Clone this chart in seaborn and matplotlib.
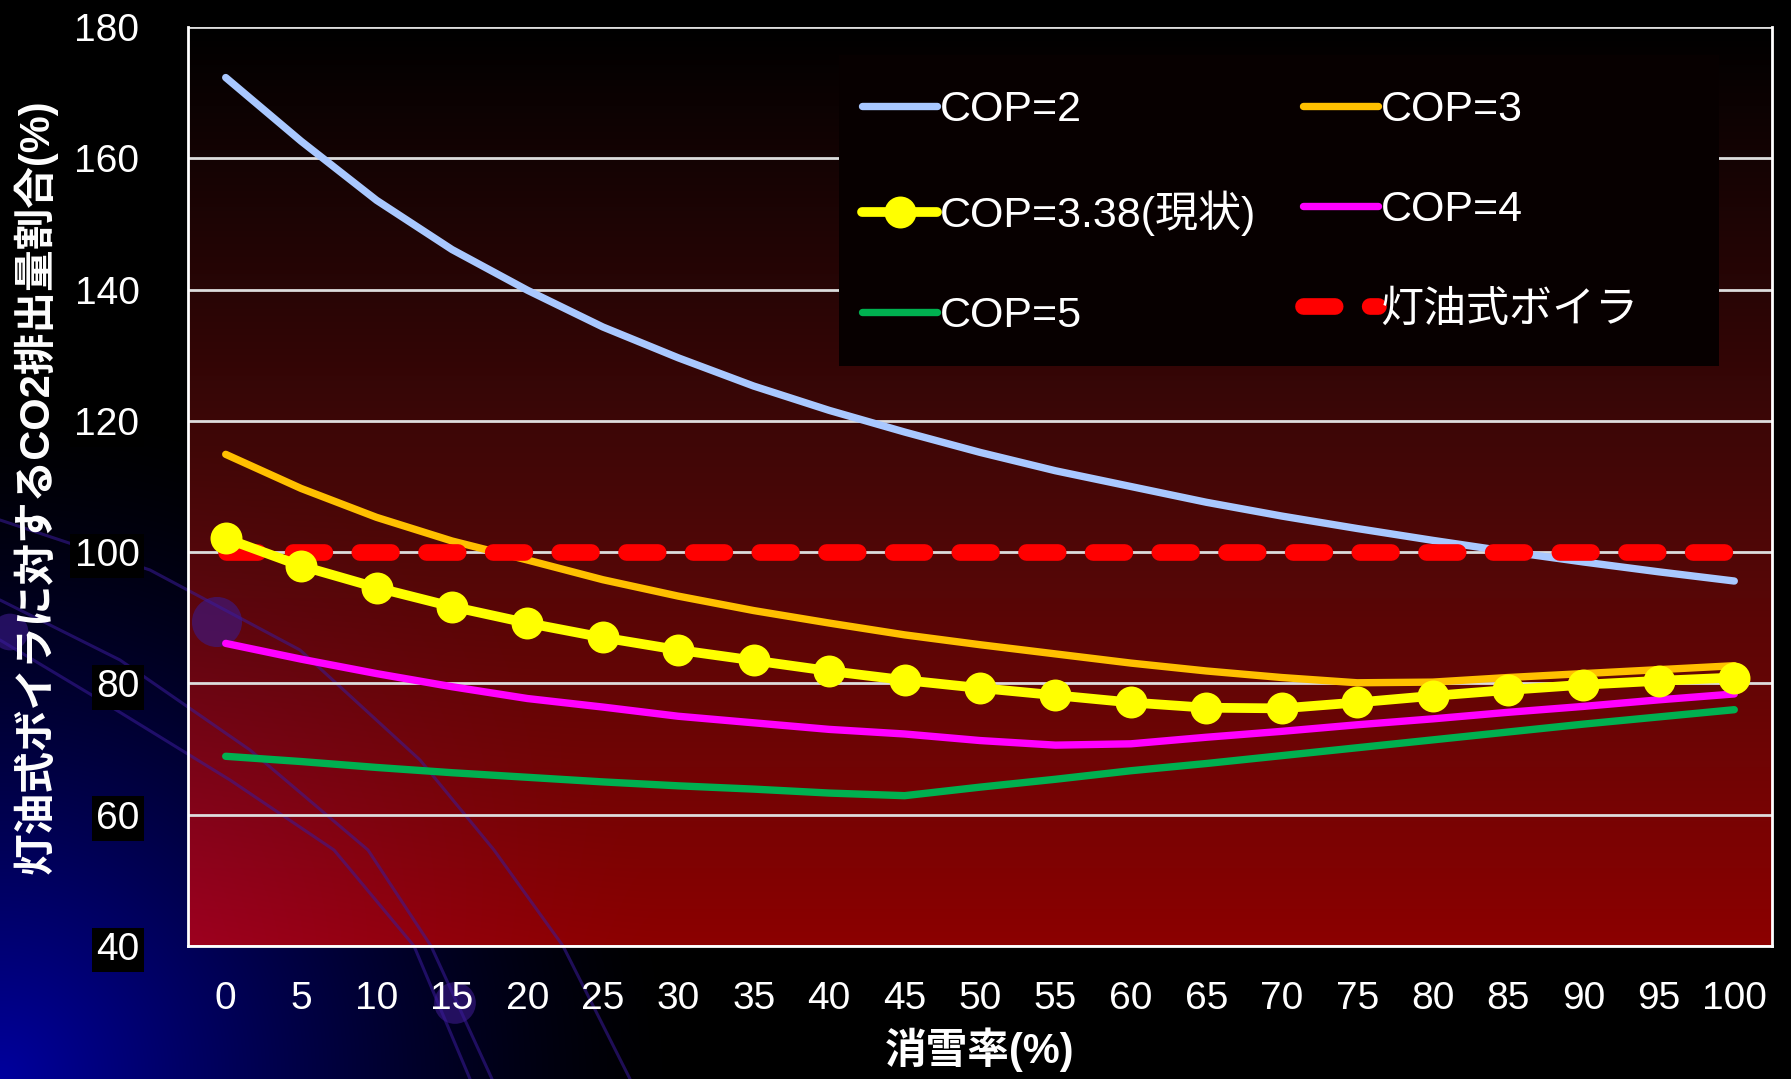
import numpy as np
import pandas as pd
import matplotlib
matplotlib.use('Agg')
import matplotlib.pyplot as plt
import seaborn as sns
from matplotlib.lines import Line2D
from matplotlib.patches import Rectangle

# ------------------ data ------------------
snow_rate = [0, 5, 10, 15, 20, 25, 30, 35, 40, 45, 50,
             55, 60, 65, 70, 75, 80, 85, 90, 95, 100]

cop2 = [172.3, 162.6, 153.6, 146.1, 139.9, 134.3, 129.6, 125.3, 121.6, 118.3, 115.2,
        112.4, 110.0, 107.6, 105.5, 103.6, 101.8, 100.1, 98.5, 97.0, 95.6]
cop3 = [114.9, 109.7, 105.3, 101.7, 98.8, 95.8, 93.3, 91.1, 89.2, 87.4, 85.9,
        84.5, 83.1, 81.9, 80.9, 80.1, 80.2, 80.9, 81.5, 82.1, 82.7]
cop338 = [102.1, 97.9, 94.6, 91.7, 89.2, 87.0, 85.1, 83.5, 81.9, 80.5, 79.3,
          78.2, 77.1, 76.3, 76.2, 77.1, 78.1, 79.0, 79.8, 80.4, 80.9]
cop4 = [86.1, 83.7, 81.5, 79.5, 77.7, 76.4, 75.0, 74.0, 73.0, 72.3, 71.3,
        70.6, 70.8, 71.8, 72.7, 73.7, 74.6, 75.6, 76.5, 77.5, 78.4]
cop5 = [68.9, 68.1, 67.2, 66.4, 65.7, 65.0, 64.4, 63.9, 63.3, 62.9, 64.2,
        65.4, 66.7, 67.8, 69.0, 70.2, 71.4, 72.6, 73.8, 74.9, 76.0]
boiler = [100] * 21

labels = ['COP=2', 'COP=3', 'COP=3.38(現状)', 'COP=4', 'COP=5', '灯油式ボイラ']
colors = ['#A9C8FF', '#FFC000', '#FFFF00', '#FF00FF', '#00B050', '#FF0000']

y_ticks = [40, 60, 80, 100, 120, 140, 160, 180]

# ------------------ figure ------------------
sns.set_style('dark')
plt.rcParams['font.family'] = ['Liberation Sans', 'Noto Sans CJK JP', 'DejaVu Sans']

W, H = 1791, 1079
fig = plt.figure(figsize=(W / 100, H / 100), dpi=100, facecolor='black')
x0, x1, y0, y1 = 188, 1772, 27, 946
ax_pos = [x0 / W, 1 - y1 / H, (x1 - x0) / W, (y1 - y0) / H]

# background: black slide with blue glow bottom-left, plot area black->dark red
yy, xx = np.mgrid[0:H, 0:W]
r = np.hypot(xx, H - yy)
glow = np.clip(1 - r / 680, 0, 1) ** 1.4
img = np.zeros((H, W, 3))
img[..., 2] = 0.62 * glow
t = np.clip((yy - y0) / (y1 - y0), 0, 1)
inside = (xx >= x0) & (xx <= x1) & (yy >= y0) & (yy <= y1)
red = np.zeros((H, W, 3))
red[..., 0] = 0.55 * t + 0.12 * glow
red[..., 1] = 0.05 * t * (1 - t) * 2
red[..., 2] = 0.05 * t * (1 - t) * 2 + 0.22 * glow
img[inside] = red[inside]

bg = fig.add_axes([0, 0, 1, 1])
bg.imshow(img, extent=(0, W, H, 0), aspect='auto', interpolation='bilinear')
# decorative template swooshes
for pts in ([(0, 520), (150, 570), (300, 650), (420, 760), (494, 850), (563, 946), (630, 1079)],
            [(0, 600), (120, 660), (250, 750), (368, 850), (431, 946), (492, 1079)],
            [(0, 640), (100, 700), (230, 780), (334, 850), (414, 946), (470, 1079)]):
    px, py = zip(*pts)
    bg.plot(px, py, color='#3a1a9a', lw=2.2, alpha=0.55)
bg.scatter([217, 10, 455], [622, 632, 1003], s=[1300, 700, 900], color='#3b1a8a', alpha=0.6, lw=0)
bg.set_xlim(0, W)
bg.set_ylim(H, 0)
bg.axis('off')

ax = fig.add_axes(ax_pos)
ax.set_facecolor('none')

series = [cop2, cop3, cop338, cop4, cop5]
handles = []
for vals, lab, col in zip(series, labels[:5], colors[:5]):
    if lab.startswith('COP=3.38'):
        sns.lineplot(x=snow_rate, y=vals, ax=ax, color=col, lw=7, marker='o',
                     markersize=23, markeredgewidth=0, solid_capstyle='round', zorder=4)
        handles.append(Line2D([], [], color=col, lw=7, marker='o', markersize=23,
                              markeredgewidth=0, solid_capstyle='round'))
    else:
        sns.lineplot(x=snow_rate, y=vals, ax=ax, color=col, lw=5.3,
                     solid_capstyle='round', zorder=3)
        handles.append(Line2D([], [], color=col, lw=5.3, solid_capstyle='round'))

sns.lineplot(x=snow_rate, y=boiler, ax=ax, color=colors[5], lw=12,
             linestyle=(0, (1.9, 2.1)), dash_capstyle='round', zorder=3.5)
handles.append(Line2D([], [], color=colors[5], lw=12, linestyle=(0, (1.9, 2.1)),
                      dash_capstyle='round'))

# axes styling
ax.set_xlim(-2.5, 102.5)
ax.set_ylim(40, 180)
ax.set_xticks(np.arange(-2.5, 103, 5))
ax.set_xticklabels([])
ax.set_xticks(snow_rate, minor=True)
ax.set_xticklabels([str(v) for v in snow_rate], minor=True)
ax.tick_params(axis='x', which='major', length=12, width=2, color='white', direction='out')
ax.tick_params(axis='x', which='minor', length=0, pad=25, labelsize=28, labelcolor='white')
ax.set_yticks(y_ticks)
ax.tick_params(axis='y', length=13, width=2, color='white', direction='out',
               pad=22, labelsize=28, labelcolor='white')
for lbl in ax.get_yticklabels():
    lbl.set_bbox(dict(facecolor='black', edgecolor='none', pad=3))

ax.grid(False)
ax.yaxis.grid(True, color='#dddddd', lw=2)
ax.set_axisbelow(True)
for side in ['left', 'bottom', 'right']:
    ax.spines[side].set_visible(True)
    ax.spines[side].set_color('white')
    ax.spines[side].set_linewidth(2)
ax.spines['top'].set_visible(False)

ax.set_xlabel('消雪率(%)', color='white', fontsize=30, fontweight='bold', labelpad=8)
ax.set_ylabel('灯油式ボイラに対するCO2排出量割合(%)', color='white', fontsize=30,
              fontweight='bold', labelpad=12)

# legend box (Excel-style, wider than its content)
def to_ax(px, py):
    return (px - x0) / (x1 - x0), 1 - (py - y0) / (y1 - y0)

lb_l, lb_t = to_ax(839, 55)
lb_r, lb_b = to_ax(1719, 366)
ax.add_patch(Rectangle((lb_l, lb_b), lb_r - lb_l, lb_t - lb_b, transform=ax.transAxes,
                       facecolor='#070000', edgecolor='none', zorder=2.5))

order = [0, 2, 4, 1, 3, 5]
leg = ax.legend([handles[i] for i in order], [labels[i] for i in order], ncol=2,
                loc='upper left', bbox_to_anchor=to_ax(862, 90),
                fontsize=31, frameon=False, handlelength=1.75,
                handletextpad=0.05, columnspacing=1.1, labelspacing=1.4,
                borderpad=0, borderaxespad=0)
for txt in leg.get_texts():
    txt.set_color('white')

fig.savefig('out.png', dpi=100, facecolor='black')
